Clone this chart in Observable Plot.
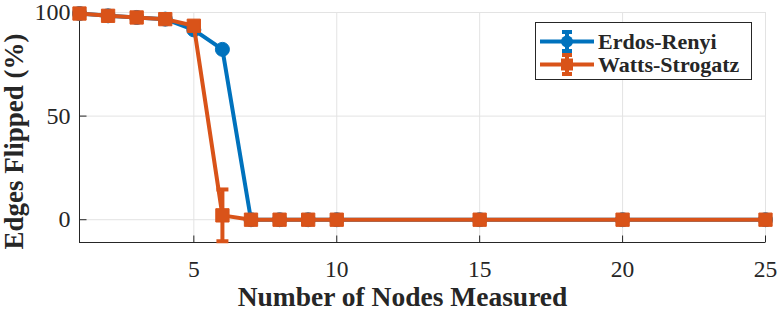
<!DOCTYPE html>
<html><head><meta charset="utf-8">
<script src="https://cdn.jsdelivr.net/npm/d3@7"></script>
<script src="https://cdn.jsdelivr.net/npm/@observablehq/plot@0.6"></script>
<style>
body{margin:0;background:#fff;}
#wrap{position:relative;width:778px;height:312px;font-family:'Liberation Serif',serif;}
#wrap svg text{font-family:'Liberation Serif',serif;}
#legend{position:absolute;left:535px;top:22px;width:215px;height:56px;border:1px solid #262626;background:#fff;font-family:'Liberation Serif',serif;font-weight:bold;font-size:22px;color:#262626;}
.row{position:absolute;left:0;height:23px;display:flex;align-items:center;}
.row svg{margin-left:4px;margin-right:4px;}
</style></head>
<body><div id="wrap"><div id="legend"></div></div>
<script>
const nodes = [1,2,3,4,5,6,7,8,9,10,15,20,25];
const erdosRenyi = [99.5,98.4,97.6,96.8,91.6,82.2,0,0,0,0,0,0,0];
const erdosRenyiErr = [0,0,0,0,0,0,0,0,0,0,0,0,0];
const wattsStrogatz = [99.5,98.4,97.6,96.8,93.6,2.1,0,0,0,0,0,0,0];
const wattsStrogatzErr = [0,0,0,0,0,12.5,0,0,0,0,0,0,0];
const xTicks = [5,10,15,20,25];
const yTicks = [0,50,100];
const seriesNames = ["Erdos-Renyi","Watts-Strogatz"];
const colors = ["#0072BD","#D95319"];
const serif = "'Liberation Serif', serif";

const er = nodes.map((x,i)=>({x, y: erdosRenyi[i], e: erdosRenyiErr[i]}));
const ws = nodes.map((x,i)=>({x, y: wattsStrogatz[i], e: wattsStrogatzErr[i]}));

const cap = {draw(ctx, size){ const w = 6; ctx.moveTo(-w,0); ctx.lineTo(w,0); }};
const tickUp = {draw(ctx, size){ ctx.moveTo(0,0); ctx.lineTo(0,-7); }};
const tickRight = {draw(ctx, size){ ctx.moveTo(0,0); ctx.lineTo(7,0); }};

function series(data, color, symbol, r){
  const withErr = data.filter(d=>d.e>0);
  return [
    Plot.line(data,{x:"x",y:"y",stroke:color,strokeWidth:4}),
    Plot.ruleX(withErr,{x:"x",y1:d=>d.y-d.e,y2:d=>d.y+d.e,stroke:color,strokeWidth:4}),
    Plot.dot(withErr,{x:"x",y:d=>d.y+d.e,symbol:cap,stroke:color,strokeWidth:4}),
    Plot.dot(withErr,{x:"x",y:d=>d.y-d.e,symbol:cap,stroke:color,strokeWidth:4}),
    Plot.dot(data,{x:"x",y:"y",symbol,r,fill:color,stroke:color,strokeWidth:1})
  ];
}

const chart = Plot.plot({
  width:778, height:312,
  marginLeft:79, marginRight:13, marginTop:12, marginBottom:70,
  style:{fontFamily:serif, fontSize:"23px", color:"#262626", background:"#fff"},
  x:{domain:[1,25]},
  y:{domain:[-11,100]},
  marks:[
    Plot.gridX(xTicks,{stroke:"#e3e3e3",strokeOpacity:1,strokeWidth:1}),
    Plot.gridY(yTicks,{stroke:"#e3e3e3",strokeOpacity:1,strokeWidth:1}),
    Plot.ruleY([-11],{stroke:"#262626",strokeWidth:1}),
    Plot.ruleX([1],{stroke:"#262626",strokeWidth:1}),
    Plot.dot(xTicks,{x:d=>d,frameAnchor:"bottom",symbol:tickUp,stroke:"#262626",strokeWidth:1}),
    Plot.dot(yTicks,{y:d=>d,frameAnchor:"left",symbol:tickRight,stroke:"#262626",strokeWidth:1}),
    Plot.axisX(xTicks,{tickSize:0,tickPadding:18,label:null,fill:"#262626",fontFamily:serif,fontSize:23.5}),
    Plot.axisY(yTicks,{tickSize:0,tickPadding:9,label:null,fill:"#262626",fontFamily:serif,fontSize:24}),
    ...series(er, colors[0], "circle", 7),
    ...series(ws, colors[1], "square", 7.5),
    Plot.text(["Number of Nodes Measured"],{frameAnchor:"bottom",dy:63,dx:-20,textAnchor:"middle",fontWeight:"bold",fontSize:27.5,fill:"#262626",fontFamily:serif}),
    Plot.text(["Edges Flipped (%)"],{frameAnchor:"left",dx:-65,dy:14,rotate:-90,textAnchor:"middle",fontWeight:"bold",fontSize:27,fill:"#262626",fontFamily:serif})
  ]
});
document.getElementById("wrap").prepend(chart);

const legend = document.getElementById("legend");
seriesNames.forEach((name,i)=>{
  const row = document.createElement("div");
  row.className="row";
  row.style.top = (7 + i*23) + "px";
  const c = colors[i];
  const marker = i===0
    ? `<circle cx="27" cy="11.5" r="6" fill="${c}"/>`
    : `<rect x="21" y="5.5" width="12" height="12" fill="${c}"/>`;
  row.innerHTML = `<svg width="54" height="23"><line x1="0" x2="54" y1="11.5" y2="11.5" stroke="${c}" stroke-width="4"/><line x1="27" x2="27" y1="2" y2="21" stroke="${c}" stroke-width="4"/><line x1="22" x2="32" y1="2" y2="2" stroke="${c}" stroke-width="4"/><line x1="22" x2="32" y1="21" y2="21" stroke="${c}" stroke-width="4"/>${marker}</svg><span>${name}</span>`;
  legend.appendChild(row);
});
</script>
</body></html>
